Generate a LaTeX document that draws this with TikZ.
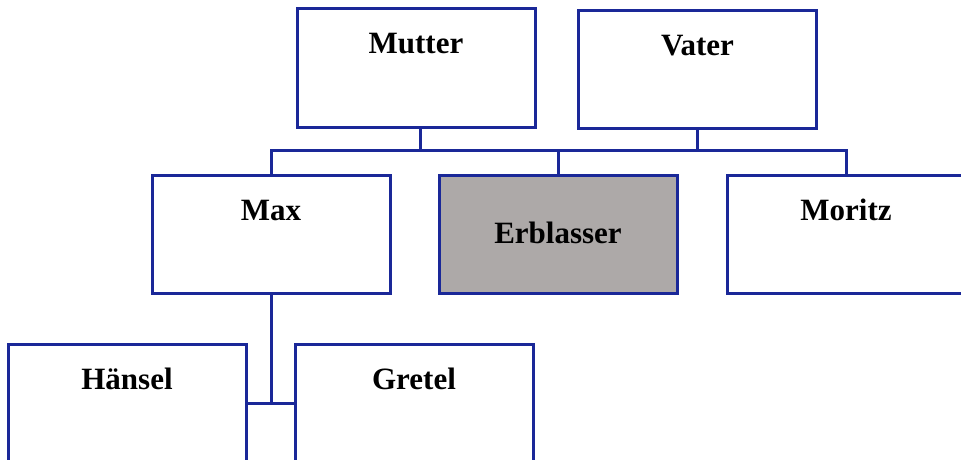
\documentclass[tikz,border=0pt]{standalone}
\usepackage{fontspec}
\setmainfont{Liberation Serif}
\definecolor{boxblue}{RGB}{26,40,152}
\definecolor{erbgray}{RGB}{173,169,168}
\begin{document}
\begin{tikzpicture}[x=1pt,y=-1pt,
  person/.style={draw=boxblue, line width=3pt, fill=white, rectangle,
    minimum width=238pt, minimum height=118pt, inner sep=0pt},
  personlabel/.style={font=\fontsize{31}{31}\selectfont\bfseries, text=black, anchor=base, inner sep=0pt},
  link/.style={draw=boxblue, line width=3pt}]
\useasboundingbox (0,0) rectangle (961,460);
% boxes
\node[person] (mutter) at (416,68) {};
\node[person] (vater) at (697.5,69.5) {};
\node[person] (maxbox) at (271,234.5) {};
\node[person, fill=erbgray] (erbl) at (558,234.5) {};
\node[person] (moritz) at (846,234) {};
\node[person] (haensel) at (127,403) {};
\node[person] (gretel) at (414,403) {};
% names
\node[personlabel] (tmutter) at (416,54) {Mutter};
\node[personlabel] (tvater) at (697.5,56) {Vater};
\node[personlabel] (tmax) at (271,220) {Max};
\node[personlabel] (terbl) at (558,243) {Erblasser};
\node[personlabel] (tmoritz) at (846,220) {Moritz};
\node[personlabel] (thaensel) at (127,389) {Hänsel};
\node[personlabel] (tgretel) at (414,389) {Gretel};
% connectors
\coordinate (bar) at (0,150);
\path[link] (maxbox.north) -- (maxbox.north |- bar) -- (moritz.north |- bar) -- (moritz.north);
\path[link] ([xshift=4pt]mutter.south) -- ([xshift=4pt]mutter.south |- bar);
\path[link] (vater.south) -- (vater.south |- bar);
\path[link] (erbl.north) -- (erbl.north |- bar);
\path[link] (maxbox.south) -- (maxbox.south |- haensel.east);
\path[link] (haensel.east) -- (gretel.west);
\end{tikzpicture}
\end{document}
